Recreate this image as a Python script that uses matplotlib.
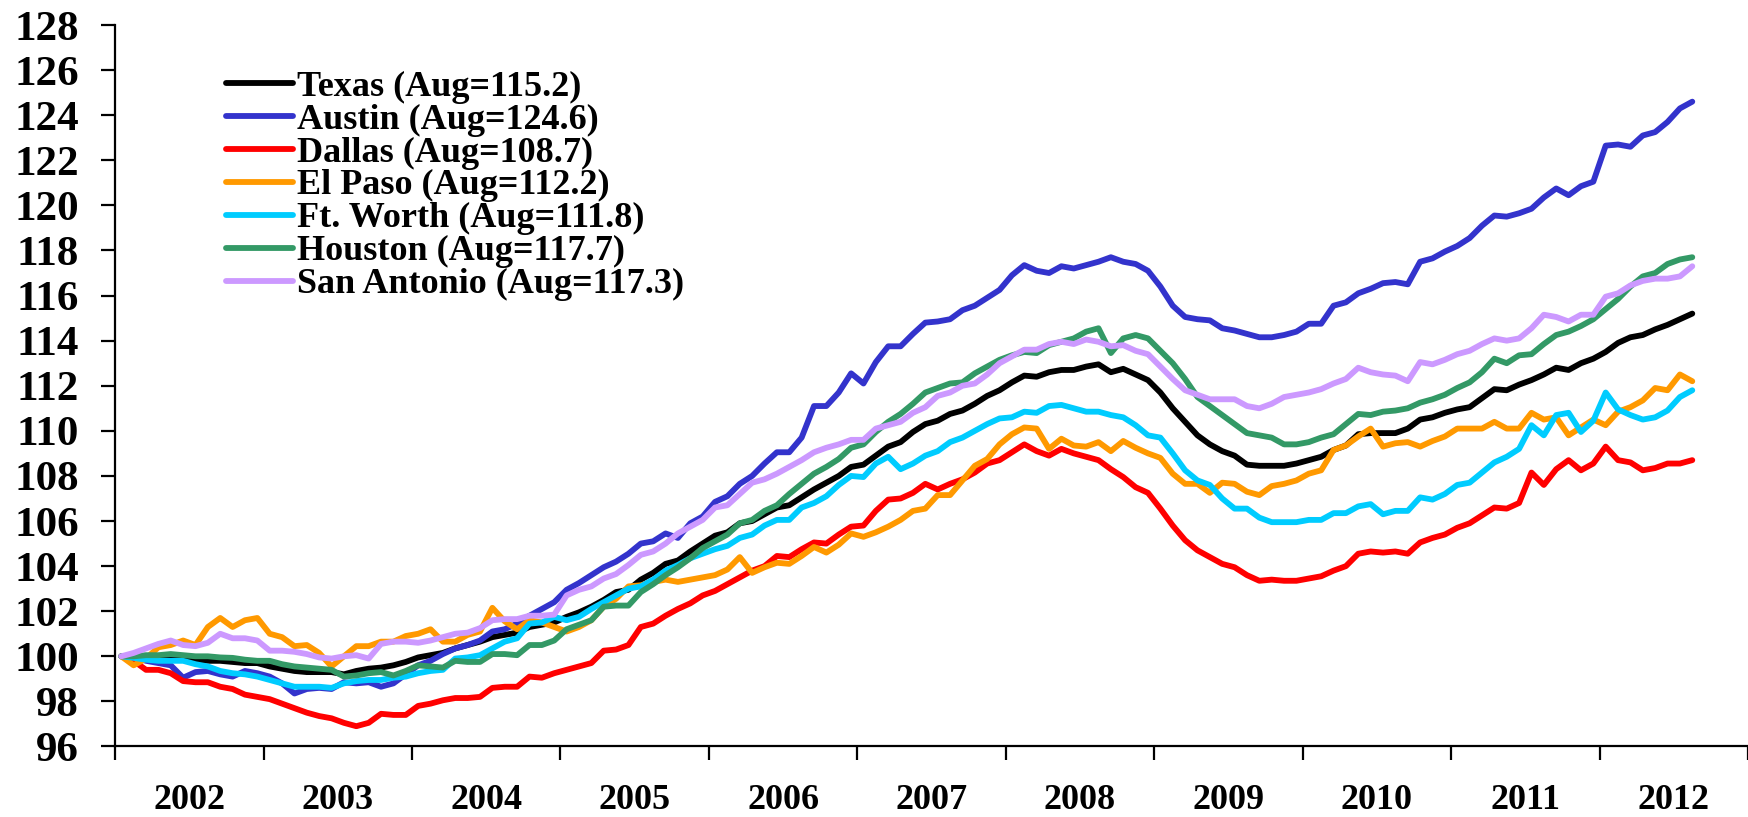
import matplotlib
matplotlib.use('Agg')
import matplotlib.pyplot as plt
import numpy as np

plt.rcParams['font.family'] = ['Liberation Serif', 'DejaVu Serif']
plt.rcParams['font.weight'] = 'bold'

# Monthly index, Jan 2002 = 100, through Aug 2012
years = list(range(2002, 2013))

texas = [100.0, 99.9, 99.9, 99.9, 99.9, 99.9, 99.85, 99.8, 99.8, 99.75, 99.7, 99.7,
         99.55, 99.45, 99.35, 99.3, 99.3, 99.3, 99.2, 99.35, 99.45, 99.5, 99.6, 99.75,
         99.95, 100.05, 100.15, 100.35, 100.5, 100.65, 100.85, 100.95, 101.05, 101.3, 101.4, 101.5,
         101.75, 101.95, 102.2, 102.5, 102.85, 102.95, 103.4, 103.7, 104.1, 104.25, 104.65, 105.0,
         105.35, 105.5, 105.9, 106.0, 106.3, 106.6, 106.7, 107.05, 107.4, 107.7, 108.0, 108.4,
         108.5, 108.9, 109.3, 109.5, 109.95, 110.3, 110.45, 110.75, 110.9, 111.2, 111.55, 111.8,
         112.15, 112.45, 112.4, 112.6, 112.7, 112.7, 112.85, 112.95, 112.6, 112.75, 112.5, 112.25,
         111.7, 111.0, 110.4, 109.8, 109.4, 109.1, 108.9, 108.5, 108.45, 108.45, 108.45, 108.55,
         108.7, 108.85, 109.15, 109.35, 109.85, 109.9, 109.9, 109.9, 110.1, 110.5, 110.6, 110.8,
         110.95, 111.05, 111.45, 111.85, 111.8, 112.05, 112.25, 112.5, 112.8, 112.7, 113.0, 113.2,
         113.5, 113.9, 114.15, 114.25, 114.5, 114.7, 114.95, 115.2]

austin = [100.0, 99.95, 99.8, 99.7, 99.6, 99.05, 99.3, 99.35, 99.2, 99.1, 99.35, 99.25,
          99.1, 98.8, 98.35, 98.55, 98.6, 98.55, 98.85, 98.8, 98.85, 98.65, 98.8, 99.2,
          99.6, 99.8, 100.1, 100.35, 100.5, 100.7, 101.1, 101.2, 101.45, 101.8, 102.1, 102.4,
          102.95, 103.25, 103.6, 103.95, 104.2, 104.55, 105.0, 105.1, 105.45, 105.25, 105.9, 106.2,
          106.85, 107.1, 107.65, 108.0, 108.55, 109.05, 109.05, 109.7, 111.1, 111.1, 111.7, 112.55,
          112.1, 113.05, 113.75, 113.75, 114.3, 114.8, 114.85, 114.95, 115.35, 115.55, 115.9, 116.25,
          116.9, 117.35, 117.1, 117.0, 117.3, 117.2, 117.35, 117.5, 117.7, 117.5, 117.4, 117.1,
          116.4, 115.55, 115.05, 114.95, 114.9, 114.55, 114.45, 114.3, 114.15, 114.15, 114.25, 114.4,
          114.75, 114.75, 115.55, 115.7, 116.1, 116.3, 116.55, 116.6, 116.5, 117.5, 117.65, 117.95,
          118.2, 118.55, 119.1, 119.55, 119.5, 119.65, 119.85, 120.35, 120.75, 120.45, 120.85, 121.05,
          122.65, 122.7, 122.6, 123.1, 123.25, 123.7, 124.3, 124.6]

dallas = [100.0, 99.8, 99.4, 99.4, 99.25, 98.9, 98.85, 98.85, 98.65, 98.55, 98.3, 98.2,
          98.1, 97.9, 97.7, 97.5, 97.35, 97.25, 97.05, 96.9, 97.05, 97.45, 97.4, 97.4,
          97.8, 97.9, 98.05, 98.15, 98.15, 98.2, 98.6, 98.65, 98.65, 99.1, 99.05, 99.25,
          99.4, 99.55, 99.7, 100.25, 100.3, 100.5, 101.3, 101.45, 101.8, 102.1, 102.35, 102.7,
          102.9, 103.2, 103.5, 103.8, 104.0, 104.45, 104.4, 104.75, 105.05, 105.0, 105.4, 105.75,
          105.8, 106.45, 106.95, 107.0, 107.25, 107.65, 107.4, 107.65, 107.85, 108.15, 108.55, 108.7,
          109.05, 109.4, 109.1, 108.9, 109.2, 109.0, 108.85, 108.7, 108.3, 107.95, 107.5, 107.25,
          106.55, 105.8, 105.15, 104.7, 104.4, 104.1, 103.95, 103.6, 103.35, 103.4, 103.35, 103.35,
          103.45, 103.55, 103.8, 104.0, 104.55, 104.65, 104.6, 104.65, 104.55, 105.05, 105.25, 105.4,
          105.7, 105.9, 106.25, 106.6, 106.55, 106.8, 108.15, 107.6, 108.3, 108.7, 108.25, 108.55,
          109.3, 108.7, 108.6, 108.25, 108.35, 108.55, 108.55, 108.7]

el_paso = [100.0, 99.6, 99.9, 100.4, 100.5, 100.7, 100.5, 101.3, 101.7, 101.3, 101.6, 101.7,
           101.0, 100.85, 100.45, 100.5, 100.15, 99.55, 100.0, 100.45, 100.45, 100.65, 100.65, 100.9,
           101.0, 101.2, 100.65, 100.65, 100.95, 101.1, 102.15, 101.55, 101.2, 101.6, 101.5, 101.3,
           101.1, 101.3, 101.6, 102.2, 102.55, 103.1, 103.15, 103.3, 103.4, 103.3, 103.4, 103.5,
           103.6, 103.85, 104.4, 103.7, 103.95, 104.15, 104.1, 104.45, 104.85, 104.6, 104.95, 105.45,
           105.3, 105.5, 105.75, 106.05, 106.45, 106.55, 107.15, 107.15, 107.8, 108.45, 108.75, 109.4,
           109.85, 110.15, 110.1, 109.2, 109.65, 109.35, 109.3, 109.5, 109.1, 109.55, 109.25, 109.0,
           108.8, 108.1, 107.65, 107.65, 107.25, 107.7, 107.65, 107.3, 107.15, 107.55, 107.65, 107.8,
           108.1, 108.25, 109.15, 109.35, 109.75, 110.1, 109.3, 109.45, 109.5, 109.3, 109.55, 109.75,
           110.1, 110.1, 110.1, 110.4, 110.1, 110.1, 110.8, 110.5, 110.6, 109.8, 110.15, 110.5,
           110.25, 110.85, 111.05, 111.35, 111.9, 111.8, 112.5, 112.2]

ft_worth = [100.0, 99.93, 99.85, 99.8, 99.8, 99.8, 99.65, 99.55, 99.35, 99.25, 99.2, 99.1,
            98.95, 98.8, 98.65, 98.65, 98.65, 98.6, 98.8, 98.9, 98.95, 98.95, 99.05, 99.1,
            99.25, 99.35, 99.4, 99.9, 99.95, 100.05, 100.35, 100.65, 100.8, 101.45, 101.5, 101.75,
            101.6, 101.75, 102.1, 102.4, 102.7, 103.0, 103.1, 103.4, 103.8, 104.05, 104.35, 104.55,
            104.75, 104.9, 105.25, 105.4, 105.8, 106.05, 106.05, 106.6, 106.8, 107.1, 107.6, 108.0,
            107.95, 108.55, 108.85, 108.3, 108.55, 108.9, 109.1, 109.5, 109.7, 110.0, 110.3, 110.55,
            110.6, 110.85, 110.8, 111.1, 111.15, 111.0, 110.85, 110.85, 110.7, 110.6, 110.25, 109.8,
            109.7, 109.0, 108.25, 107.8, 107.6, 107.0, 106.55, 106.55, 106.15, 105.95, 105.95, 105.95,
            106.05, 106.05, 106.35, 106.35, 106.65, 106.75, 106.3, 106.45, 106.45, 107.05, 106.95, 107.2,
            107.6, 107.7, 108.15, 108.6, 108.85, 109.2, 110.25, 109.8, 110.7, 110.8, 109.95, 110.45,
            111.7, 110.95, 110.7, 110.5, 110.6, 110.9, 111.5, 111.8]

houston = [100.0, 100.0, 100.05, 100.05, 100.1, 100.05, 100.0, 100.0, 99.95, 99.93, 99.85, 99.8,
           99.8, 99.65, 99.55, 99.5, 99.45, 99.4, 99.1, 99.15, 99.25, 99.3, 99.15, 99.35,
           99.6, 99.55, 99.5, 99.8, 99.75, 99.75, 100.1, 100.1, 100.05, 100.5, 100.5, 100.7,
           101.2, 101.4, 101.6, 102.2, 102.25, 102.25, 102.85, 103.2, 103.6, 103.95, 104.35, 104.8,
           105.1, 105.4, 105.9, 106.05, 106.45, 106.7, 107.2, 107.65, 108.1, 108.4, 108.75, 109.25,
           109.4, 109.95, 110.4, 110.75, 111.2, 111.7, 111.9, 112.1, 112.15, 112.55, 112.85, 113.15,
           113.35, 113.5, 113.45, 113.8, 113.95, 114.1, 114.4, 114.55, 113.45, 114.1, 114.25, 114.1,
           113.55, 113.0, 112.3, 111.5, 111.1, 110.7, 110.3, 109.9, 109.8, 109.7, 109.4, 109.4,
           109.5, 109.7, 109.85, 110.3, 110.75, 110.7, 110.85, 110.9, 111.0, 111.25, 111.4, 111.6,
           111.9, 112.15, 112.6, 113.2, 113.0, 113.35, 113.4, 113.85, 114.25, 114.4, 114.65, 114.95,
           115.4, 115.85, 116.4, 116.85, 117.0, 117.4, 117.6, 117.7]

san_antonio = [100.0, 100.15, 100.35, 100.55, 100.7, 100.5, 100.45, 100.6, 101.0, 100.8, 100.8, 100.7,
               100.25, 100.25, 100.2, 100.1, 99.95, 99.9, 100.0, 100.05, 99.9, 100.55, 100.65, 100.65,
               100.6, 100.7, 100.85, 101.0, 101.05, 101.25, 101.6, 101.65, 101.65, 101.8, 101.8, 101.85,
               102.7, 102.95, 103.1, 103.45, 103.65, 104.05, 104.5, 104.65, 105.0, 105.45, 105.75, 106.05,
               106.6, 106.7, 107.2, 107.7, 107.85, 108.1, 108.4, 108.7, 109.05, 109.25, 109.4, 109.6,
               109.6, 110.1, 110.25, 110.4, 110.8, 111.05, 111.55, 111.7, 112.0, 112.1, 112.5, 113.0,
               113.3, 113.6, 113.6, 113.85, 113.95, 113.85, 114.05, 113.95, 113.75, 113.8, 113.55, 113.4,
               112.85, 112.3, 111.8, 111.6, 111.4, 111.4, 111.4, 111.1, 111.0, 111.2, 111.5, 111.6,
               111.7, 111.85, 112.1, 112.3, 112.8, 112.6, 112.5, 112.45, 112.2, 113.05, 112.95, 113.15,
               113.4, 113.55, 113.85, 114.1, 114.0, 114.1, 114.55, 115.15, 115.05, 114.85, 115.15, 115.15,
               115.95, 116.1, 116.45, 116.65, 116.75, 116.75, 116.85, 117.3]

labels = ['Texas (Aug=115.2)', 'Austin (Aug=124.6)', 'Dallas (Aug=108.7)',
          'El Paso (Aug=112.2)', 'Ft. Worth (Aug=111.8)', 'Houston (Aug=117.7)',
          'San Antonio (Aug=117.3)']
series = [texas, austin, dallas, el_paso, ft_worth, houston, san_antonio]
colors = ['#000000', '#3333CC', '#FF0000', '#FF9900', '#00CCFF', '#339966', '#CC99FF']

x = 2002 + (np.arange(len(texas)) + 0.5) / 12

fig = plt.figure(figsize=(17.49, 8.17), dpi=100)
ax = fig.add_axes([0.0658, 0.0863, 0.9336, 0.8831])

for vals, lab, col in zip(series, labels, colors):
    ax.plot(x, vals, color=col, lw=4.2, label=lab,
            solid_joinstyle='round', solid_capstyle='round')

ax.set_xlim(2002, 2013)
ax.set_ylim(96, 128)
ax.set_yticks(range(96, 129, 2))

# year ticks on boundaries, labels centred in each year
ax.set_xticks(range(2002, 2014))
ax.set_xticklabels([])
ax.set_xticks([y + 0.5 for y in years], minor=True)
ax.set_xticklabels([str(y) for y in years], minor=True)
ax.tick_params(axis='x', which='minor', length=0, pad=27, labelsize=26)
ax.tick_params(axis='x', which='major', direction='out', length=10, width=1.6)
ax.tick_params(axis='y', direction='out', length=10, width=1.6, labelsize=31, pad=16)

for s in ['top', 'right']:
    ax.spines[s].set_visible(False)
for s in ['left', 'bottom']:
    ax.spines[s].set_linewidth(1.6)

ax.legend(loc='upper left', bbox_to_anchor=(0.068, 0.937), frameon=False,
          prop={'family': 'Liberation Serif', 'weight': 'bold', 'size': 26},
          handlelength=1.85, handletextpad=0.12, labelspacing=-0.01,
          borderpad=0, borderaxespad=0)

fig.savefig('out.png', dpi=100)
